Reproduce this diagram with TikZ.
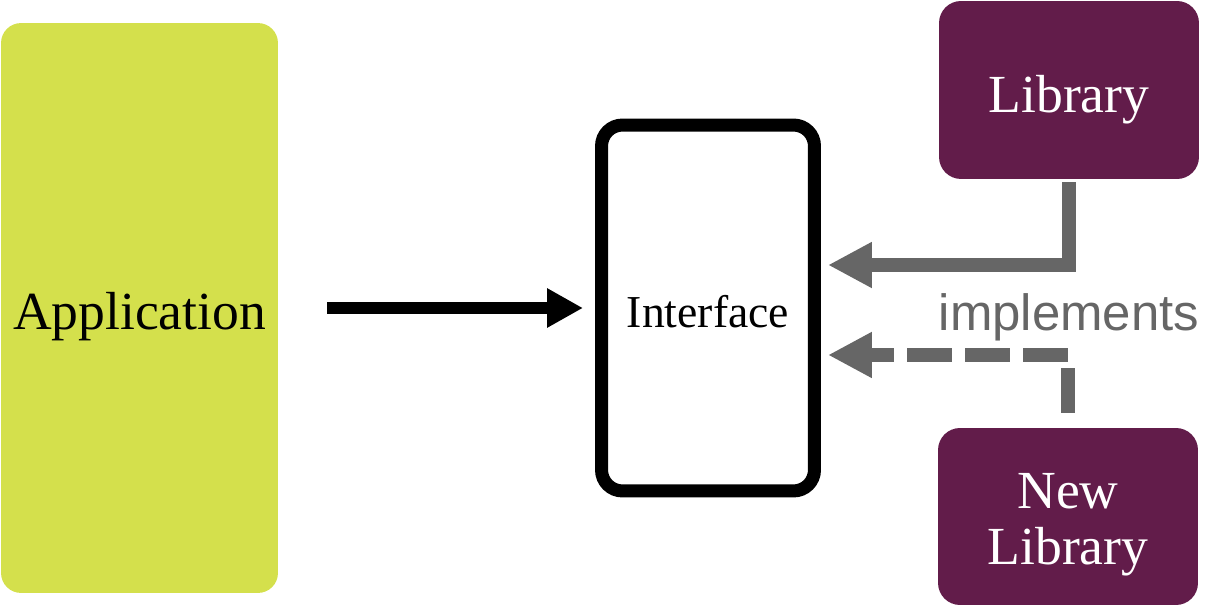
\documentclass[tikz,border=0pt]{standalone}
\usepackage{fontspec}
\setmainfont{Liberation Serif}
\setsansfont{Liberation Sans}
\usetikzlibrary{positioning}
\usetikzlibrary{arrows.meta}

\definecolor{appgreen}{HTML}{D4E04C}
\definecolor{libpurple}{HTML}{621C4A}
\definecolor{linkgray}{HTML}{666666}

\tikzset{
 appbox/.style={fill=appgreen, rounded corners=0.4cm, inner sep=0pt,
  minimum width=5.54cm, minimum height=11.4cm,
  font=\fontsize{30.5}{36}\selectfont, text height=0.88cm, text depth=0cm},
 ifacebox/.style={draw=black, line width=7.4pt, rounded corners=0.42cm, inner sep=0pt,
  minimum width=4.26cm, minimum height=7.32cm,
  font=\fontsize{26}{30}\selectfont, text height=0.78cm, text depth=0cm},
 libbox/.style={fill=libpurple, text=white, rounded corners=0.44cm, inner sep=0pt,
  minimum width=5.2cm, minimum height=3.56cm, align=center,
  font=\fontsize{30.5}{32.4}\selectfont, text depth=0cm},
 callarrow/.style={line width=6.5pt, -{Triangle[length=0.72cm, width=0.74cm]}},
 implarrow/.style={draw=linkgray, line width=7.97pt,
  -{Triangle[length=0.88cm, width=0.86cm, fill=linkgray]}},
 newdashes/.style={dash pattern=on 0.9cm off 0.26cm},
 impltext/.style={text=linkgray, font=\sffamily\fontsize{29}{34}\selectfont, inner sep=0pt}
}

\begin{document}
\begin{tikzpicture}[x=0.02cm, y=-0.02cm]
 \useasboundingbox (0,0) rectangle (1206,607);
 \node[appbox] (app) at (139.5,308) {Application};
 \node[ifacebox] (iface) at (708,308) {Interface};
 \node[libbox, text height=0.9cm] (lib) at (1069,90) {Library};
 \node[libbox, minimum height=3.54cm, text height=1.94cm] (newlib) at (1068,516.5) {New\\Library};
 \node[impltext, anchor=base] (impl) at (1069,331) {implements};
 \draw[callarrow, shorten <=0.98cm, shorten >=0.24cm] (app.east) -- (iface.west);
 \draw[implarrow, shorten <=0.06cm, shorten >=0.14cm] (lib.south) |- ([yshift=0.86cm]iface.east);
 \draw[implarrow, newdashes, shorten <=0.3cm, shorten >=0.14cm] (newlib.north) |- ([yshift=-0.94cm]iface.east);
\end{tikzpicture}
\end{document}
